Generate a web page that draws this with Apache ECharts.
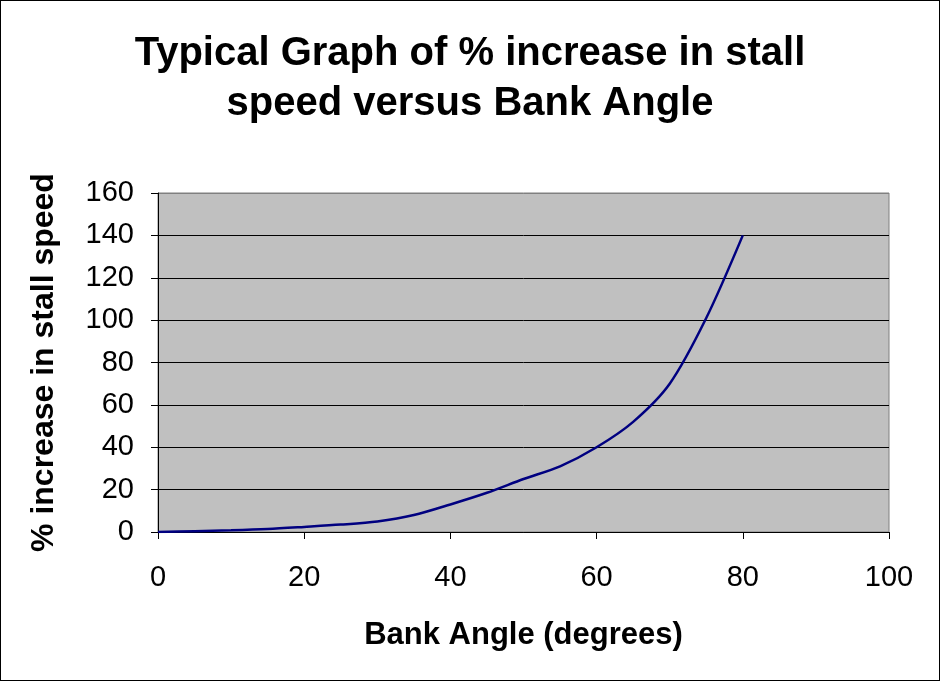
<!DOCTYPE html>
<html>
<head>
<meta charset="utf-8">
<script src="https://cdn.jsdelivr.net/npm/echarts@6/dist/echarts.min.js"></script>
<style>
  html, body { margin: 0; padding: 0; background: #fff; }
  #main { width: 938px; height: 679px; border: 1px solid #000; }
</style>
</head>
<body>
<div id="main"></div>
<script>
// bank angle in degrees, and % increase in stall speed
var bankAngle = [0, 5, 10, 15, 20, 25, 30, 35, 40, 45, 50, 55, 60, 65, 70, 75, 80];
var stallIncrease = [0, 0.4, 0.8, 1.4, 2.4, 3.5, 5, 8, 13, 18.5, 25, 31, 40, 52, 70, 101, 140];
var yTicks = [0, 20, 40, 60, 80, 100, 120, 140, 160];
var xTicks = [0, 20, 40, 60, 80, 100];

var points = [];
for (var i = 0; i < bankAngle.length; i++) {
    points.push([bankAngle[i], stallIncrease[i]]);
}

// gridlines black, except the top one which is the gray plot border
var gridColors = [];
for (var j = 0; j < yTicks.length; j++) {
    gridColors.push(j == yTicks.length - 1 ? '#808080' : '#000');
}

var myChart = echarts.init(document.getElementById('main'));
var font = 'Liberation Sans, Arial, sans-serif';

var option = {
    animation: false,
    backgroundColor: '#fff',
    title: {
        text: 'Typical Graph of % increase in stall\nspeed versus Bank Angle',
        left: 'center',
        top: 23,
        textStyle: {
            fontFamily: font,
            fontSize: 40,
            fontWeight: 'bold',
            color: '#000',
            lineHeight: 50
        }
    },
    grid: {
        left: 157,
        right: 50,
        top: 192,
        bottom: 148,
        show: true,
        backgroundColor: '#c0c0c0',
        borderColor: '#808080',
        borderWidth: 1
    },
    xAxis: {
        type: 'value',
        min: xTicks[0],
        max: xTicks[xTicks.length - 1],
        interval: 20,
        name: 'Bank Angle (degrees)',
        nameLocation: 'middle',
        nameGap: 88,
        nameTextStyle: { fontFamily: font, fontSize: 31, fontWeight: 'bold', color: '#000' },
        axisLine: { show: true, lineStyle: { color: '#000', width: 1 } },
        axisTick: { show: true, length: 7, lineStyle: { color: '#000' } },
        axisLabel: { fontFamily: font, fontSize: 29, color: '#000', margin: 31 },
        splitLine: { show: false }
    },
    yAxis: {
        type: 'value',
        min: yTicks[0],
        max: yTicks[yTicks.length - 1],
        interval: 20,
        name: '% increase in stall speed',
        nameLocation: 'middle',
        nameGap: 98,
        nameTextStyle: { fontFamily: font, fontSize: 32, fontWeight: 'bold', color: '#000' },
        axisLine: { show: true, lineStyle: { color: '#000', width: 1 } },
        axisTick: { show: true, length: 7, lineStyle: { color: '#000' } },
        axisLabel: { fontFamily: font, fontSize: 29, color: '#000', margin: 24 },
        splitLine: { show: true, lineStyle: { color: gridColors, width: 1 } }
    },
    series: [
        {
            type: 'line',
            data: points,
            smooth: 0.3,
            showSymbol: false,
            lineStyle: { color: '#000080', width: 2.5 }
        }
    ]
};
myChart.setOption(option);
</script>
</body>
</html>
